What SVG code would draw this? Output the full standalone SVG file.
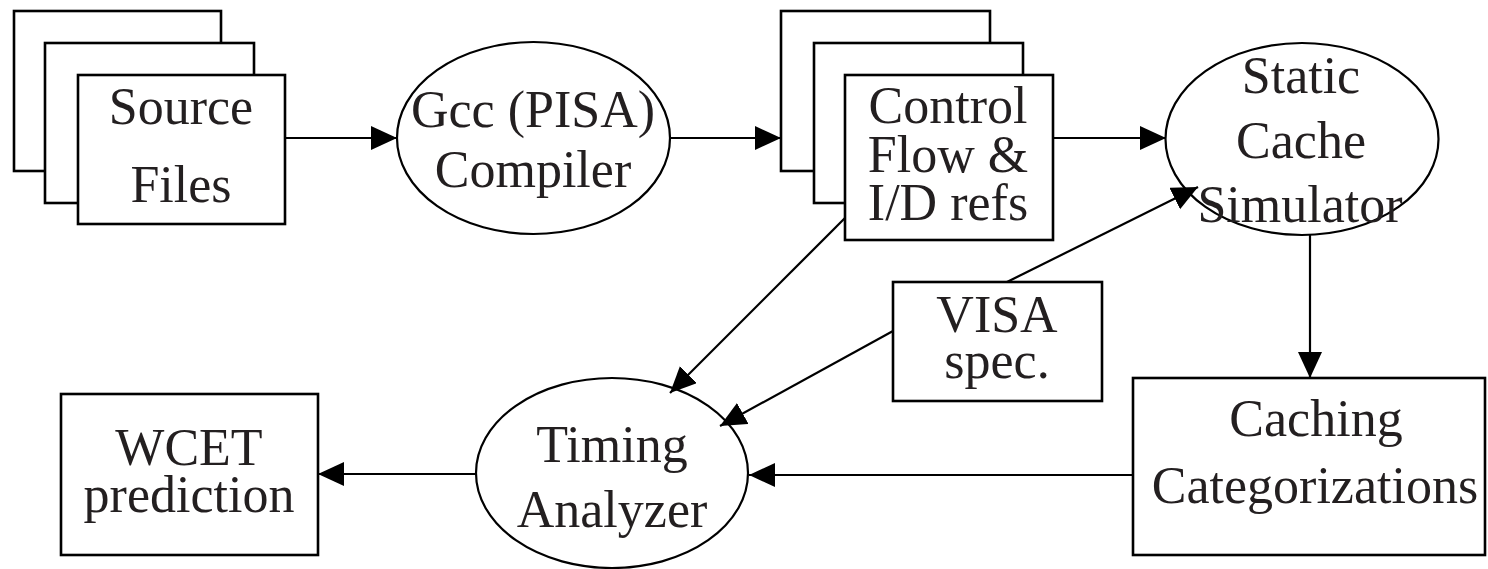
<svg xmlns="http://www.w3.org/2000/svg" width="1488" height="569" viewBox="0 0 1488 569">
<defs>
<marker id="ah" markerUnits="userSpaceOnUse" markerWidth="28" markerHeight="26" refX="26" refY="12" orient="auto">
<path d="M0,0 L26,12 L0,24 z" fill="#000"/>
</marker>
<style>
.box{fill:#fff;stroke:#000;stroke-width:2.6}
.ell{fill:#fff;stroke:#000;stroke-width:2.2}
.edge{fill:none;stroke:#000;stroke-width:2.2;marker-end:url(#ah)}
text{font-family:"Liberation Serif","Times New Roman",serif;font-size:52px;fill:#231f20;text-anchor:middle}
</style>
</defs>
<rect width="1488" height="569" fill="#fff"/>
<g id="source-files">
<rect class="box" x="14" y="11" width="207" height="160"/>
<rect class="box" x="45" y="43" width="209" height="160"/>
<rect class="box" x="78" y="75" width="207" height="149"/>
<text x="181" y="124">Source</text>
<text x="181" y="202">Files</text>
</g>
<g id="gcc-compiler">
<ellipse class="ell" cx="533.5" cy="138" rx="136.5" ry="96"/>
<text x="533" y="127">Gcc (PISA)</text>
<text x="533" y="187">Compiler</text>
</g>
<g id="control-flow">
<rect class="box" x="781" y="11" width="209" height="160"/>
<rect class="box" x="814" y="43" width="209" height="160"/>
<rect class="box" x="845" y="75" width="208" height="165"/>
<text x="948" y="123">Control</text>
<text x="948" y="172">Flow &amp;</text>
<text x="948" y="220">I/D refs</text>
</g>
<g id="static-cache-simulator">
<ellipse class="ell" cx="1302" cy="139" rx="136.5" ry="96"/>
<text x="1301" y="93">Static</text>
<text x="1301" y="158">Cache</text>
<text x="1300" y="222">Simulator</text>
</g>
<g id="visa-spec">
<rect class="box" x="893" y="282" width="209" height="119"/>
<text x="997" y="332">VISA</text>
<text x="997" y="378">spec.</text>
</g>
<g id="caching-categorizations">
<rect class="box" x="1133" y="378" width="352" height="177"/>
<text x="1316" y="436">Caching</text>
<text x="1315" y="503">Categorizations</text>
</g>
<g id="timing-analyzer">
<ellipse class="ell" cx="612" cy="473" rx="136" ry="95"/>
<text x="612" y="462">Timing</text>
<text x="612" y="527">Analyzer</text>
</g>
<g id="wcet-prediction">
<rect class="box" x="61" y="394" width="257" height="161"/>
<text x="189" y="465">WCET</text>
<text x="189" y="512">prediction</text>
</g>
<g id="connectors">
<line class="edge" x1="285" y1="138" x2="397" y2="138"/>
<line class="edge" x1="670" y1="138" x2="781" y2="138"/>
<line class="edge" x1="1053" y1="138" x2="1166" y2="138"/>
<line class="edge" x1="1310" y1="235" x2="1310" y2="378"/>
<line class="edge" x1="1007" y1="282" x2="1198" y2="187"/>
<line class="edge" x1="845" y1="218" x2="670" y2="393"/>
<line class="edge" x1="893" y1="331" x2="720" y2="426"/>
<line class="edge" x1="1133" y1="475" x2="749" y2="475"/>
<line class="edge" x1="476" y1="474" x2="318" y2="474"/>
</g>
</svg>
